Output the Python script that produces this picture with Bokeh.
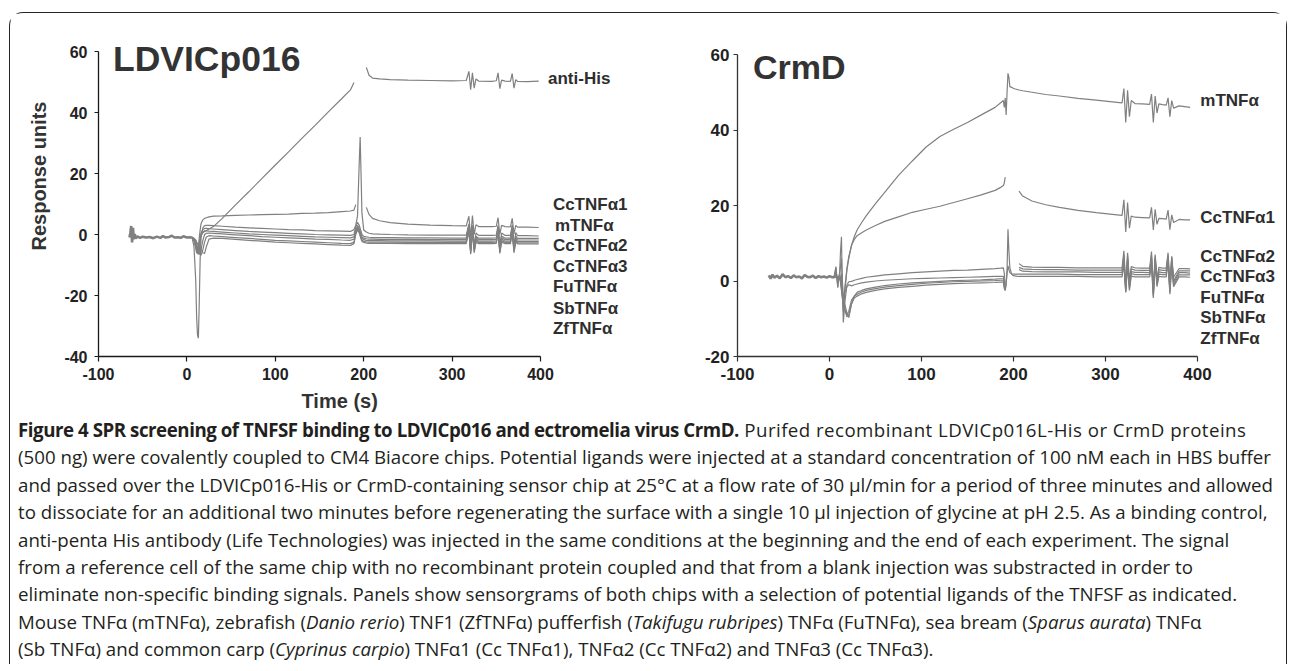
import numpy as np
from bokeh.plotting import figure
from bokeh.models import Label, Div, FixedTicker, Range1d, Title, CustomJSTickFormatter
from bokeh.layouts import column, row
from bokeh.embed import file_html
from bokeh.resources import INLINE

nan = float("nan")

# ---------------- data: LDVICp016 chip (left panel) ----------------
left_base_t = [-65, -64, -63, -62, -61, -60, -59, -58, -56, -53, -50, -46, -42, -38, -34,
               -30, -27, -24, -20, -17, -14, -10, -7, -4, 0, 3, 6]
left_base_v = [-1.0, 0.5, 2.8, -2.6, 2.2, -1.6, 0.2, -1.3, -0.6, -1.1, -0.7, -1.0, -0.8, -1.2, -0.7,
               -1.1, -0.5, -1.0, -0.8, -0.4, -1.0, -0.9, -1.1, -0.6, -1.0, -0.9, -1.0]

left_t = [6, 8, 10, 11, 12, 13, 14, 15, 16, 18, 20, 22, 25, 30, 40, 55, 70, 85, 100, 115,
          130, 145, 160, 175, 185, 189, 191, 193, 195, 196, 197, 198, 200, 203, 206, 210, 218, 230, 250, 275,
          300, 316, 319, 321, 323, 325, 327, 330, 345, 350, 352, 354, 356, 360, 366, 368, 370, 372, 374, 385,
          398]

left_antiHis = [-1.0, -1.6, -3.2, -4.6, -5.2, -4.2, -2.6, -1.2, -0.2, 0.6, 1.0, 1.3, 1.8, 2.6, 5.3, 9.7, 14.0, 18.4, 22.8, 27.1,
                31.5, 35.8, 40.2, 44.5, 47.4, 49.8, nan, nan, nan, nan, nan, nan, nan, 54.8, 52.2, 51.3, 51.0, 50.8, 50.6, 50.5,
                50.4, 50.5, 53.5, 47.5, 53.0, 48.0, 51.0, 50.3, 50.2, 50.4, 53.0, 47.8, 50.6, 50.3, 50.2, 52.8, 48.0, 50.8, 50.2, 50.1,
                50.3]
left_CcTNFa1 = [-1.0, -2.0, -4.0, -5.5, -6.0, -4.0, -1.0, 1.5, 3.5, 4.8, 5.3, 5.5, 5.8, 6.0, 6.1, 6.3, 6.4, 6.5, 6.6, 6.7,
                6.9, 7.0, 7.2, 7.5, 7.7, 8.0, 9.8, nan, nan, nan, nan, nan, nan, 8.9, 6.6, 5.3, 4.5, 3.9, 3.4, 3.1,
                2.9, 2.8, 6.0, -1.0, 6.2, 0.0, 3.2, 2.6, 2.6, 2.7, 5.5, 0.0, 3.0, 2.6, 2.5, 5.3, 0.2, 3.0, 2.4, 2.4,
                2.3]
left_mTNFa = [-1.2, -4.0, -15.0, -27.0, -33.0, -34.0, -22.0, -8.0, -1.0, 2.2, 2.9, 3.0, 3.0, 2.9, 2.7, 2.4, 2.2, 2.0, 1.8, 1.6,
              1.5, 1.3, 1.2, 1.1, 1.0, 1.6, 3.0, 6.0, 24.0, 32.0, 20.0, 7.0, 1.5, 0.8, 0.4, 0.2, 0.1, 0.0, -0.1, -0.2,
              -0.2, -0.2, 3.5, -4.5, 3.0, -3.5, 0.5, -0.3, -0.3, -0.2, 3.0, -3.8, 0.5, -0.3, -0.3, 3.2, -3.5, 0.6, -0.4, -0.4,
              -0.5]
left_CcTNFa2 = [-1.0, -2.0, -4.5, -6.0, -6.2, -5.0, -3.0, -1.0, 0.5, 1.6, 2.0, 2.0, 1.9, 1.8, 1.6, 1.3, 1.0, 0.8, 0.6, 0.4,
                0.2, 0.0, -0.1, -0.2, -0.3, 0.0, 2.5, 4.0, 3.0, 2.0, 1.0, 0.0, -0.6, -0.8, -0.9, -1.0, -1.0, -1.0, -1.1, -1.1,
                -1.2, -1.2, 2.8, -5.0, 2.5, -4.2, -0.6, -1.2, -1.2, -1.1, 2.0, -4.5, -0.5, -1.2, -1.2, 2.2, -4.3, -0.4, -1.3, -1.3,
                -1.3]
left_CcTNFa3 = [-0.9, -1.8, -3.5, -5.0, -6.0, -6.5, -5.5, -3.0, -0.5, 0.8, 1.2, 1.2, 1.1, 1.0, 0.8, 0.5, 0.2, 0.0, -0.2, -0.4,
                -0.6, -0.8, -0.9, -1.0, -1.1, -0.8, 1.5, 3.0, 2.0, 1.0, 0.0, -0.8, -1.2, -1.4, -1.5, -1.5, -1.6, -1.6, -1.6, -1.7,
                -1.7, -1.7, 3.2, -4.8, 2.8, -4.5, -1.0, -1.7, -1.7, -1.6, 2.5, -5.0, -1.0, -1.7, -1.7, 2.6, -4.8, -1.0, -1.8, -1.8,
                -1.8]
left_FuTNFa = [-1.1, -1.5, -2.5, -3.5, -4.5, -5.5, -6.2, -6.5, -5.0, -2.0, 0.0, 0.4, 0.5, 0.4, 0.2, -0.1, -0.4, -0.7, -0.9, -1.1,
               -1.3, -1.5, -1.6, -1.8, -1.9, -1.5, 1.0, 2.5, 1.5, 0.5, -0.5, -1.2, -1.7, -1.9, -2.0, -2.0, -2.0, -2.1, -2.1, -2.1,
               -2.2, -2.2, 2.0, -5.5, 2.0, -5.0, -1.5, -2.2, -2.2, -2.1, 1.5, -5.2, -1.5, -2.2, -2.2, 1.8, -5.0, -1.5, -2.3, -2.3,
               -2.3]
left_SbTNFa = [-0.8, -1.2, -2.0, -3.0, -4.0, -5.0, -5.8, -6.5, -6.8, -5.0, -2.5, -0.8, -0.4, -0.5, -0.7, -1.0, -1.3, -1.6, -1.9, -2.1,
               -2.3, -2.5, -2.7, -2.9, -3.0, -2.5, 0.5, 2.0, 1.0, 0.0, -1.0, -1.8, -2.2, -2.4, -2.5, -2.5, -2.5, -2.5, -2.6, -2.6,
               -2.6, -2.6, 1.5, -6.0, 1.5, -5.5, -2.0, -2.6, -2.6, -2.5, 1.0, -5.8, -2.0, -2.6, -2.6, 1.2, -5.5, -2.0, -2.7, -2.7,
               -2.7]
left_ZfTNFa = [-1.0, -1.3, -1.8, -2.5, -3.0, -3.5, -4.0, -4.5, -5.0, -6.0, -6.2, -4.0, -1.5, -1.2, -1.3, -1.6, -1.9, -2.2, -2.5, -2.7,
               -2.9, -3.1, -3.3, -3.5, -3.6, -3.0, 0.0, 1.5, 0.5, -0.5, -1.5, -2.2, -2.6, -2.8, -2.9, -2.9, -2.9, -2.9, -3.0, -3.0,
               -3.0, -3.0, 1.0, -6.5, 1.0, -6.0, -2.5, -3.0, -3.0, -2.9, 0.5, -6.2, -2.5, -3.0, -3.0, 0.8, -6.0, -2.5, -3.1, -3.1,
               -3.1]

left_series = [left_antiHis, left_CcTNFa1, left_mTNFa, left_CcTNFa2, left_CcTNFa3, left_FuTNFa, left_SbTNFa, left_ZfTNFa]
left_names = ["anti-His", "CcTNFα1", "mTNFα", "CcTNFα2", "CcTNFα3", "FuTNFα", "SbTNFα", "ZfTNFα"]

# ---------------- data: CrmD chip (right panel) ----------------
right_base_t = [-66, -64, -62, -60, -57, -54, -51, -48, -45, -42, -39, -36, -33, -30, -27, -24, -21, -18, -15, -12,
                -9, -6, -3, 0, 3, 5]
right_base_v = [1.5, 0.6, 1.7, 0.9, 1.4, 0.7, 1.8, 1.0, 1.3, 0.8, 1.5, 1.0, 1.2, 0.7, 1.6, 1.1, 1.0, 1.4, 0.8, 1.3,
                1.0, 1.2, 0.9, 1.3, 1.0, 1.0]

right_t = [5, 7, 9, 10, 11, 12, 13, 14, 15, 17, 19, 21, 24, 27, 30, 35, 40, 50, 60, 75,
           90, 105, 120, 135, 150, 165, 180, 186, 189, 190, 191, 192, 193, 194, 195, 196, 198, 200, 203, 206,
           210, 220, 235, 250, 270, 290, 310, 318, 320, 322, 324, 326, 328, 332, 340, 348, 350, 352, 354, 356,
           358, 362, 366, 368, 370, 372, 374, 380, 386, 392]

right_mTNFa = [1.0, 3.5, -1.5, 1.0, 0.5, 1.0, 2.0, -4.0, -8.0, -2.0, 3.0, 6.0, 9.5, 11.8, 13.5, 15.5, 17.3, 20.5, 23.5, 28.0,
               31.8, 35.5, 38.3, 40.2, 42.0, 44.0, 46.0, 47.2, 47.8, 46.0, 48.5, 44.0, 50.0, 55.0, 54.0, 51.5, 51.3, 51.0, 50.8, 50.6,
               50.4, 50.0, 49.4, 49.0, 48.4, 47.9, 47.4, 47.2, 51.0, 42.0, 50.5, 43.5, 47.8, 47.0, 46.9, 46.8, 49.5, 42.0, 49.0, 44.5,
               46.9, 46.7, 46.6, 48.5, 43.5, 47.8, 45.8, 46.4, 46.2, 46.0]
right_CcTNFa1 = [1.2, 2.0, 0.0, 0.8, 1.0, 1.2, 0.5, -3.0, -6.0, -1.0, 3.5, 6.5, 9.5, 11.0, 12.0, 12.8, 13.5, 14.7, 15.8, 17.0,
                 18.2, 19.0, 19.8, 20.8, 21.8, 22.8, 24.0, 24.8, 25.3, 26.0, 27.5, nan, nan, nan, nan, nan, nan, nan, nan, 23.8,
                 22.5, 21.2, 20.2, 19.5, 18.7, 18.1, 17.6, 17.4, 21.5, 13.0, 20.8, 14.0, 17.2, 16.9, 16.8, 16.7, 19.5, 13.5, 19.0, 15.0,
                 16.6, 16.5, 16.4, 18.8, 13.6, 17.5, 15.5, 16.3, 16.2, 16.2]
right_CcTNFa2 = [1.0, 3.8, -1.8, 1.2, 2.0, 8.0, 11.7, -2.0, -11.0, -5.0, -1.0, -0.2, -0.1, 0.2, 0.4, 0.7, 1.0, 1.3, 1.6, 1.9,
                 2.2, 2.4, 2.6, 2.8, 2.9, 3.1, 3.3, 3.4, 3.5, 2.0, -1.0, nan, nan, nan, nan, nan, nan, nan, nan, 4.6,
                 3.9, 3.7, 3.6, 3.6, 3.5, 3.5, 3.5, 3.5, 8.0, -1.5, 7.5, 0.0, 3.8, 3.5, 3.4, 3.4, 7.8, -2.0, 7.0, 0.5,
                 3.6, 3.4, 3.4, 7.5, -1.0, 6.5, 1.0, 3.3, 3.3, 3.2]
right_CcTNFa3 = [1.3, 2.5, 0.0, 1.0, 1.5, 4.0, 6.0, 0.0, -4.0, -3.0, -1.5, -1.0, -1.3, -1.0, -0.8, -0.5, -0.3, 0.0, 0.2, 0.4,
                 0.6, 0.7, 0.8, 0.9, 1.0, 1.1, 1.2, 1.2, 1.2, 0.0, -2.0, nan, nan, nan, nan, nan, nan, nan, nan, 3.6,
                 3.2, 3.1, 3.0, 3.0, 2.9, 2.9, 2.9, 2.9, 6.5, -2.5, 6.8, -1.0, 3.2, 2.9, 2.8, 2.8, 6.2, -3.5, 6.5, 0.0,
                 3.0, 2.8, 2.8, 6.8, -2.0, 5.8, 0.0, 2.7, 2.7, 2.7]
right_FuTNFa = [1.0, 1.5, 0.5, 0.8, 1.0, 0.5, -1.0, -3.0, -5.0, -6.5, -8.5, -9.7, -6.0, -4.0, -3.0, -2.5, -2.1, -1.6, -1.2, -0.8,
                -0.5, -0.3, -0.1, 0.1, 0.2, 0.3, 0.5, 0.6, 0.6, -1.0, -2.5, nan, nan, nan, nan, nan, nan, nan, nan, 3.0,
                2.6, 2.5, 2.4, 2.4, 2.4, 2.3, 2.3, 2.3, 7.0, -2.0, 6.0, -1.5, 2.5, 2.3, 2.3, 2.2, 6.8, -3.0, 5.5, -0.5,
                2.4, 2.2, 2.2, 6.0, -2.5, 6.5, -0.5, 2.2, 2.2, 2.1]
right_SbTNFa = [0.8, 1.0, 1.2, 0.6, 0.8, 0.0, -2.0, -4.0, -6.0, -7.5, -9.0, -8.0, -5.0, -4.0, -3.5, -2.9, -2.5, -2.0, -1.6, -1.2,
                -0.9, -0.6, -0.4, -0.2, -0.1, 0.0, 0.1, 0.2, 0.2, -1.5, -2.2, -0.5, 2.0, 4.0, 3.0, 2.2, 1.9, 1.8, 1.8, 1.8,
                1.8, 1.8, 1.8, 1.8, 1.7, 1.7, 1.7, 1.7, 5.0, -3.0, 5.5, -2.0, 2.0, 1.7, 1.7, 1.7, 5.5, -4.0, 6.0, -1.0,
                1.8, 1.7, 1.7, 5.5, -3.0, 5.0, -1.0, 1.6, 1.6, 1.6]
right_ZfTNFa = [0.9, 1.2, 0.8, 1.0, 0.7, -0.5, -2.5, -4.5, -6.5, -8.0, -9.5, -9.0, -6.0, -4.5, -4.0, -3.4, -3.0, -2.5, -2.1, -1.7,
                -1.4, -1.1, -0.9, -0.7, -0.6, -0.5, -0.4, -0.3, -0.3, -2.0, -2.5, -1.0, 3.0, 13.7, 8.0, 3.5, 1.8, 1.4, 1.3, 1.2,
                1.2, 1.2, 1.2, 1.2, 1.2, 1.1, 1.1, 1.1, 4.5, -3.0, 4.0, -2.5, 1.3, 1.1, 1.1, 1.1, 4.0, -4.5, 4.5, -1.5,
                1.2, 1.1, 1.1, 4.8, -3.5, 4.5, -1.5, 1.1, 1.1, 1.0]

right_series = [right_mTNFa, right_CcTNFa1, right_CcTNFa2, right_CcTNFa3, right_FuTNFa, right_SbTNFa, right_ZfTNFa]
right_names = ["mTNFα", "CcTNFα1", "CcTNFα2", "CcTNFα3", "FuTNFα", "SbTNFα", "ZfTNFα"]

x_ticks = [-100, 0, 100, 200, 300, 400]
left_y_ticks = [-40, -20, 0, 20, 40, 60]
right_y_ticks = [-20, 0, 20, 40, 60]

caption_lines = [
    "<b style=\"letter-spacing:-0.45px\">Figure 4 SPR screening of TNFSF binding to LDVICp016 and ectromelia virus CrmD.</b>"
    "<span style=\"letter-spacing:0.45px\"> Purifed recombinant LDVICp016L-His or CrmD proteins</span>",
    "(500 ng) were covalently coupled to CM4 Biacore chips. Potential ligands were injected at a standard concentration of 100 nM each in HBS buffer",
    "and passed over the LDVICp016-His or CrmD-containing sensor chip at 25°C at a flow rate of 30 µl/min for a period of three minutes and allowed",
    "to dissociate for an additional two minutes before regenerating the surface with a single 10 µl injection of glycine at pH 2.5. As a binding control,",
    "anti-penta His antibody (Life Technologies) was injected in the same conditions at the beginning and the end of each experiment. The signal",
    "from a reference cell of the same chip with no recombinant protein coupled and that from a blank injection was substracted in order to",
    "eliminate non-specific binding signals. Panels show sensorgrams of both chips with a selection of potential ligands of the TNFSF as indicated.",
    "Mouse TNFα (mTNFα), zebrafish (<i>Danio rerio</i>) TNF1 (ZfTNFα) pufferfish (<i>Takifugu rubripes</i>) TNFα (FuTNFα), sea bream (<i>Sparus aurata</i>) TNFα",
    "(Sb TNFα) and common carp (<i>Cyprinus carpio</i>) TNFα1 (Cc TNFα1), TNFα2 (Cc TNFα2) and TNFα3 (Cc TNFα3).",
]

# ---------------- styling helpers ----------------
FONT = "Liberation Sans"
TRACE = "#808080"
TXT = "#2e2e2e"
FIG_H = 407


def make_fig(w, xr, yr, mb):
    p = figure(width=w, height=FIG_H, x_range=Range1d(*xr), y_range=Range1d(*yr),
               output_backend="svg", toolbar_location=None,
               min_border_left=mb[0], min_border_right=mb[1], min_border_top=mb[2], min_border_bottom=mb[3])
    p.margin = (0, 0, 0, 0)
    p.grid.visible = False
    p.outline_line_color = None
    p.background_fill_color = "white"
    p.border_fill_color = "white"
    return p


def style_axes(p, yt, ybounds, size, color, y_standoff, x_standoff):
    p.xaxis.ticker = FixedTicker(ticks=x_ticks)
    p.yaxis.ticker = FixedTicker(ticks=yt)
    p.xaxis.bounds = (-100, 400)
    p.yaxis.bounds = ybounds
    for ax in (p.xaxis, p.yaxis):
        ax.formatter = CustomJSTickFormatter(code="return String(tick);")
        ax.axis_line_color = color
        ax.axis_line_width = 1.3
        ax.major_tick_line_color = color
        ax.major_tick_line_width = 1.2
        ax.minor_tick_line_color = None
        ax.major_tick_in = 0
        ax.major_label_text_font = FONT
        ax.major_label_text_font_style = "bold"
        ax.major_label_text_font_size = size
        ax.major_label_text_color = "#222222"
    p.yaxis.major_tick_out = 4
    p.xaxis.major_tick_out = 5
    p.yaxis.major_label_standoff = y_standoff
    p.xaxis.major_label_standoff = x_standoff


def add_text(p, x, y, text, size, baseline="middle", color=TXT):
    p.add_layout(Label(x=x, y=y, text=text, text_font=FONT, text_font_style="bold",
                       text_font_size=size, text_color=color, text_align="left",
                       text_baseline=baseline))


# ---------------- left panel ----------------
# frame: 442 px per 500 s, 305 px per 100 RU; extended to hold the in-plot texts
pL = make_fig(650, (-100, -100 + 562 * 500 / 442), (-40, -40 + 343 * 100 / 305), (88, 0, 0, 64))
style_axes(pL, left_y_ticks, (-40, 60), "16px", "#1a1a1a", 7, 6)
pL.line(left_base_t, left_base_v, line_color=TRACE, line_width=2.6)
lt = np.array(left_t, dtype=float)
for s in left_series:
    pL.line(lt, np.array(s, dtype=float), line_color=TRACE, line_width=1.2)

add_text(pL, -83.6, 57.4, "LDVICp016", "35.5px", baseline="alphabetic", color="#333333")
left_label_x = [408.5, 414, 416.4, 414, 414, 414, 414, 414]
left_label_y = [51.3, 9.7, 2.8, -3.7, -10.6, -17.2, -24.1, -30.8]
for name, lx, ly in zip(left_names, left_label_x, left_label_y):
    add_text(pL, lx, ly, name, "17px")

pL.add_layout(Title(text="Response units", align="left", offset=106, standoff=24,
                    text_font=FONT, text_font_style="bold", text_font_size="20px",
                    text_color="#333333"), "left")
pL.add_layout(Title(text="Time (s)", align="left", offset=203, standoff=10,
                    text_font=FONT, text_font_style="bold", text_font_size="20px",
                    text_color="#333333"), "below")

# ---------------- right panel ----------------
# frame: 460 px per 500 s, 302 px per 80 RU
pR = make_fig(626, (-100, -100 + 549 * 500 / 460), (-20, -20 + 343 * 80 / 302), (77, 0, 0, 64))
style_axes(pR, right_y_ticks, (-20, 60), "17px", "#333333", 4, 6)
pR.line(right_base_t, right_base_v, line_color=TRACE, line_width=2.6)
rt = np.array(right_t, dtype=float)
for s in right_series:
    pR.line(rt, np.array(s, dtype=float), line_color=TRACE, line_width=1.2)

add_text(pR, -83.2, 56.7, "CrmD", "34px", baseline="alphabetic", color="#333333")
right_label_y = [47.9, 16.7, 6.4, 1.1, -4.4, -9.8, -15.1]
for name, ly in zip(right_names, right_label_y):
    add_text(pR, 403, ly, name, "17px")

# ---------------- caption ----------------
rows_html = "".join(
    f'<div style="white-space:nowrap;height:27.4px;line-height:27.4px;">{ln}</div>' for ln in caption_lines)
cap = Div(text=(f'<div style="margin-top:-4px;padding-left:8px;font-family:\'Open Sans\',sans-serif;'
                f'font-size:18.7px;color:#231f20;">{rows_html}</div>'),
          width=1276, height=244, margin=(0, 0, 0, 0))

top = row(pL, pR, margin=(0, 0, 0, 0), spacing=0)
page = column(top, cap, margin=(12, 0, 0, 9), spacing=0,
              styles={"border-top": "1.6px solid #262626", "border-left": "1.6px solid #262626",
                      "border-right": "1.6px solid #262626", "border-top-left-radius": "14px",
                      "border-top-right-radius": "14px"})

open("out.html", "w").write(file_html(page, INLINE))
